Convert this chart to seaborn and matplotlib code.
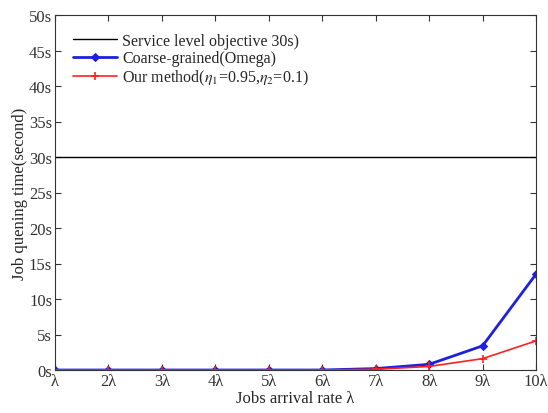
import matplotlib
matplotlib.use("Agg")
import matplotlib.pyplot as plt
import seaborn as sns
import pandas as pd

x_vals = [1, 2, 3, 4, 5, 6, 7, 8, 9, 10]
x_labels = ["λ", "2λ", "3λ", "4λ", "5λ", "6λ", "7λ", "8λ", "9λ", "10λ"]
coarse = [0.0, 0.0, 0.0, 0.0, 0.0, 0.0, 0.2, 0.8, 3.4, 13.5]
ours = [0.0, 0.0, 0.0, 0.0, 0.0, 0.0, 0.1, 0.5, 1.6, 4.1]
slo = 30
y_ticks = [0, 5, 10, 15, 20, 25, 30, 35, 40, 45, 50]
y_labels = [f"{v}s" for v in y_ticks]

sns.set_style("white")
plt.rcParams['font.family'] = ['Liberation Serif', 'DejaVu Serif']
plt.rcParams['mathtext.fontset'] = 'stix'

fig = plt.figure(figsize=(5.48, 4.14), dpi=100)
ax = fig.add_axes([55/548, 1 - 371/414, (536-55)/548, (371-16)/414])

df = pd.DataFrame({"x": x_vals, "coarse": coarse, "ours": ours})
ax.axhline(slo, color="black", lw=1.0, label="Service level objective 30s)")
sns.lineplot(data=df, x="x", y="coarse", ax=ax, color="#1f1fe0", lw=2.0,
             marker="D", markersize=4, markeredgecolor="#1f1fe0",
             label="Coarse-grained(Omega)")
sns.lineplot(data=df, x="x", y="ours", ax=ax, color="#ff2020", lw=1.2,
             marker="+", markersize=6, markeredgewidth=1.2,
             markeredgecolor="#ff2020", markerfacecolor="#ff2020",
             label=r"Our method($\eta_1$=0.95,$\eta_2$=0.1)")

ax.set_xlim(1, 10)
ax.set_ylim(0, 50)
ax.set_xticks(x_vals)
ax.set_xticklabels(x_labels)
ax.set_yticks(y_ticks)
ax.set_yticklabels(y_labels)
ax.tick_params(direction="in", length=4, labelsize=12, colors="#333333", pad=2,
               top=True, right=True, bottom=True, left=True)
for s in ax.spines.values():
    s.set_color("#333333")
    s.set_linewidth(0.8)
ax.set_xlabel("Jobs arrival rate λ", fontsize=12, labelpad=1)
ax.set_ylabel("Job quening time(second)", fontsize=12, labelpad=1)
leg = ax.legend(loc="upper left", frameon=False, fontsize=11.5, handlelength=2.8,
                borderaxespad=0.7, labelspacing=0.1, handletextpad=0.3)
fig.savefig("out.png", dpi=100)
